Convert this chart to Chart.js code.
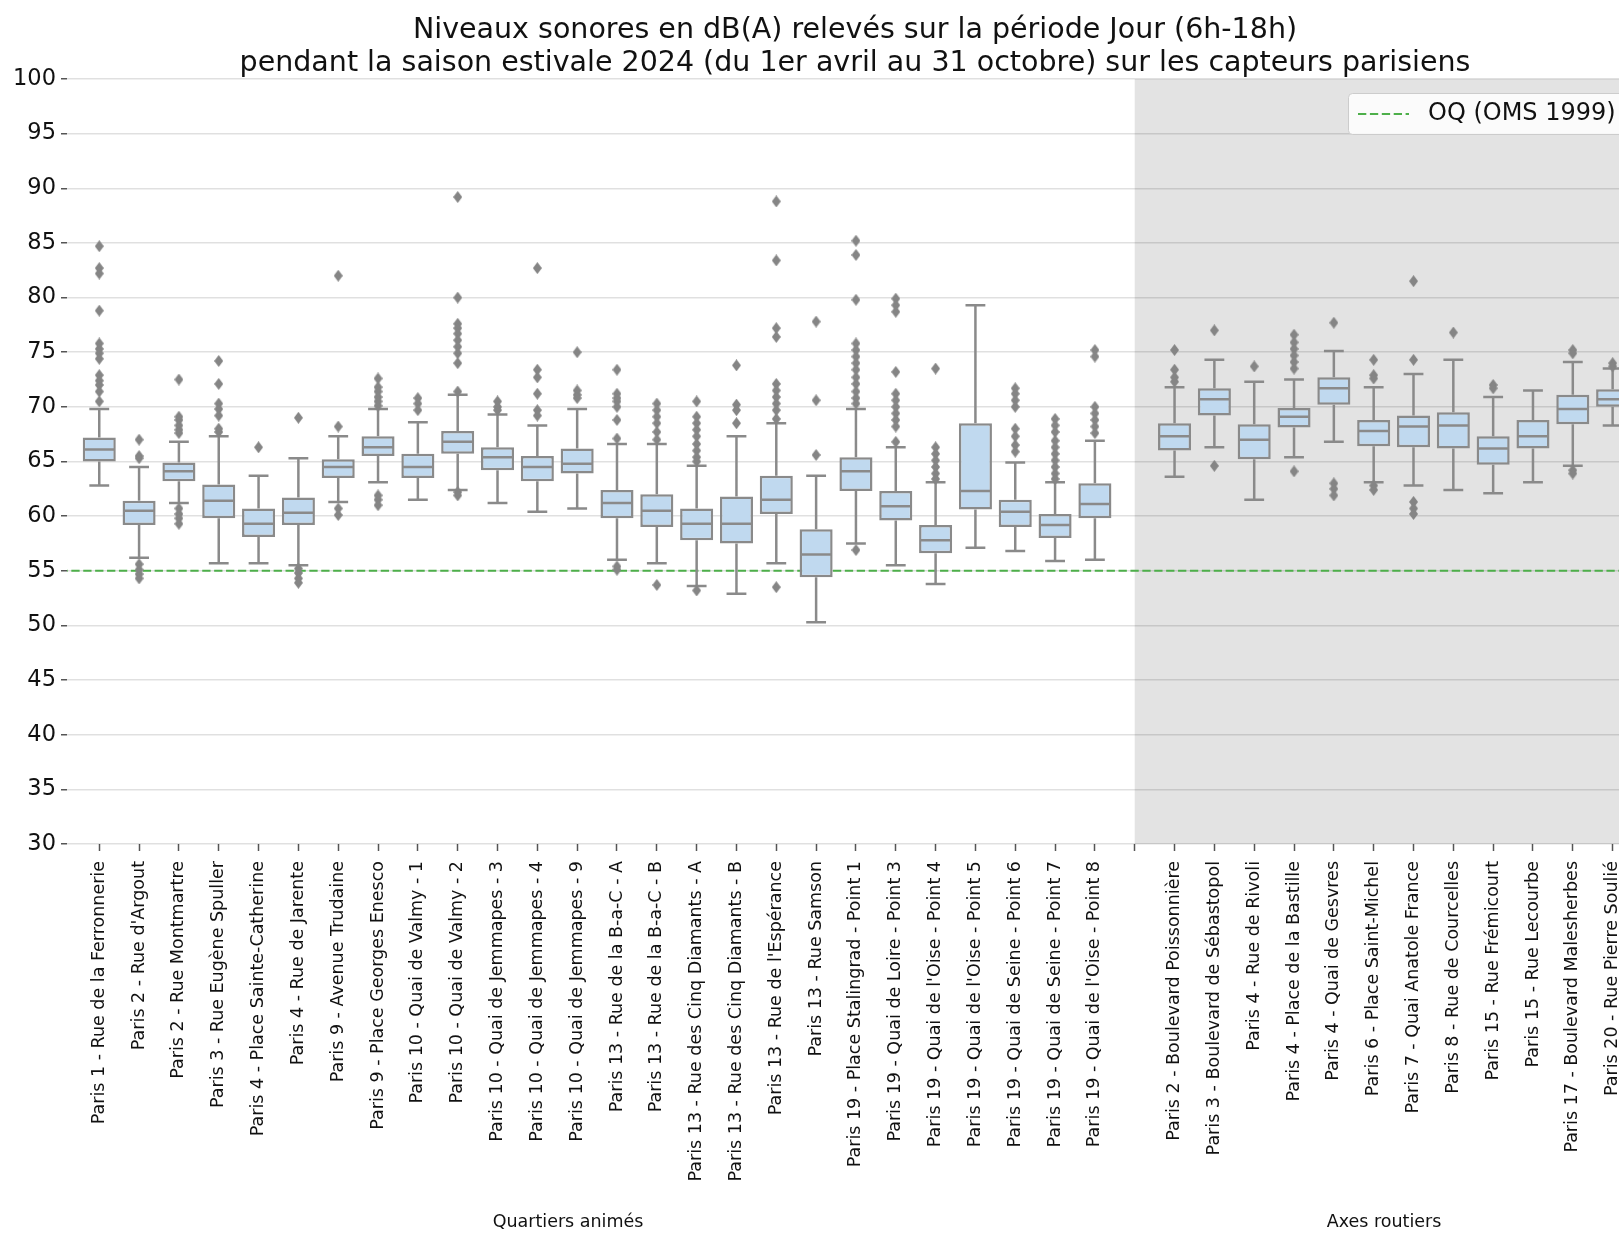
<!DOCTYPE html>
<html>
<head>
<meta charset="utf-8">
<script src="https://cdn.jsdelivr.net/npm/chart.js@4.4.1/dist/chart.umd.min.js"></script>
<style>
  html, body { margin: 0; padding: 0; background: #fff; }
  #wrap { width: 1619px; height: 1233px; }
</style>
</head>
<body>
<div id="wrap"><canvas id="graphique" width="1619" height="1233"></canvas></div>
<script>
// capteurs : 26 "quartiers animés", une case vide, puis 12 "axes routiers"
var capteurs = [
  'Paris 1 - Rue de la Ferronnerie', "Paris 2 - Rue d'Argout", 'Paris 2 - Rue Montmartre',
  'Paris 3 - Rue Eugène Spuller', 'Paris 4 - Place Sainte-Catherine', 'Paris 4 - Rue de Jarente',
  'Paris 9 - Avenue Trudaine', 'Paris 9 - Place Georges Enesco', 'Paris 10 - Quai de Valmy - 1',
  'Paris 10 - Quai de Valmy - 2', 'Paris 10 - Quai de Jemmapes - 3', 'Paris 10 - Quai de Jemmapes - 4',
  'Paris 10 - Quai de Jemmapes - 9', 'Paris 13 - Rue de la B-a-C - A', 'Paris 13 - Rue de la B-a-C - B',
  'Paris 13 - Rue des Cinq Diamants - A', 'Paris 13 - Rue des Cinq Diamants - B', "Paris 13 - Rue de l'Espérance",
  'Paris 13 - Rue Samson', 'Paris 19 - Place Stalingrad - Point 1', 'Paris 19 - Quai de Loire - Point 3',
  "Paris 19 - Quai de l'Oise - Point 4", "Paris 19 - Quai de l'Oise - Point 5", 'Paris 19 - Quai de Seine - Point 6',
  'Paris 19 - Quai de Seine - Point 7', "Paris 19 - Quai de l'Oise - Point 8",
  '',
  'Paris 2 - Boulevard Poissonnière', 'Paris 3 - Boulevard de Sébastopol', 'Paris 4 - Rue de Rivoli',
  'Paris 4 - Place de la Bastille', 'Paris 4 - Quai de Gesvres', 'Paris 6 - Place Saint-Michel',
  'Paris 7 - Quai Anatole France', 'Paris 8 - Rue de Courcelles', 'Paris 15 - Rue Frémicourt',
  'Paris 15 - Rue Lecourbe', 'Paris 17 - Boulevard Malesherbes', 'Paris 20 - Rue Pierre Soulié'
];

var moustacheBasse = [62.8, 56.2, 61.2, 55.7, 55.7, 55.5, 61.3, 63.1, 61.5, 62.4, 61.2, 60.4, 60.7, 56.0, 55.7, 53.6, 52.9, 55.7, 50.3, 57.5, 55.5, 53.8, 57.1, 56.8, 55.9, 56.0, null, 63.6, 66.3, 61.5, 65.4, 66.8, 63.1, 62.8, 62.4, 62.1, 63.1, 64.6, 68.3];
var q1 = [65.0, 59.2, 63.2, 59.8, 58.1, 59.2, 63.5, 65.5, 63.5, 65.7, 64.2, 63.2, 63.9, 59.8, 59.0, 57.8, 57.5, 60.2, 54.4, 62.3, 59.6, 56.6, 60.6, 59.0, 58.0, 59.8, null, 66.0, 69.2, 65.2, 68.1, 70.2, 66.4, 66.3, 66.2, 64.7, 66.2, 68.4, 70.0];
var mediane = [66.1, 60.5, 64.1, 61.4, 59.3, 60.3, 64.5, 66.3, 64.5, 66.8, 65.4, 64.5, 64.8, 61.2, 60.5, 59.3, 59.3, 61.5, 56.5, 64.1, 60.9, 57.8, 62.3, 60.4, 59.2, 61.1, null, 67.3, 70.7, 67.0, 69.1, 71.7, 67.8, 68.2, 68.3, 66.2, 67.3, 69.8, 70.7];
var q3 = [67.2, 61.4, 64.9, 62.9, 60.7, 61.7, 65.2, 67.3, 65.7, 67.8, 66.3, 65.5, 66.2, 62.4, 62.0, 60.7, 61.8, 63.7, 58.8, 65.4, 62.3, 59.2, 68.5, 61.5, 60.2, 63.0, null, 68.5, 71.7, 68.4, 69.9, 72.7, 68.8, 69.2, 69.5, 67.3, 68.8, 71.1, 71.6];
var moustacheHaute = [69.8, 64.5, 66.8, 67.3, 63.7, 65.3, 67.3, 69.8, 68.6, 71.1, 69.3, 68.3, 69.8, 66.6, 66.6, 64.6, 67.3, 68.5, 63.7, 69.8, 66.3, 63.1, 79.3, 64.9, 63.1, 66.9, null, 71.8, 74.3, 72.3, 72.5, 75.1, 71.8, 73.0, 74.3, 70.9, 71.5, 74.1, 73.5];

var valeursAberrantes = [
  [84.7, 82.7, 82.2, 78.8, 75.8, 75.3, 74.9, 74.4, 72.9, 72.4, 72.0, 71.4, 70.5],
  [67.0, 65.5, 65.3, 55.6, 55.1, 54.7, 54.3],
  [72.5, 69.1, 68.8, 68.3, 67.9, 67.6, 60.7, 60.2, 59.8, 59.3],
  [74.2, 72.1, 70.3, 69.8, 69.2, 68.0, 67.7],
  [66.3],
  [69.0, 55.2, 54.8, 54.3, 53.9],
  [82.0, 68.2, 60.7, 60.1],
  [72.6, 71.8, 71.4, 70.9, 70.5, 70.1, 61.9, 61.5, 61.0],
  [70.8, 70.3, 69.7],
  [89.2, 80.0, 77.6, 77.2, 76.7, 76.1, 75.5, 74.9, 74.0, 71.4, 62.2, 61.9],
  [70.5, 70.0, 69.7],
  [82.7, 73.4, 72.7, 71.2, 69.7, 69.2],
  [75.0, 71.5, 71.1, 70.8],
  [73.4, 71.2, 70.8, 70.5, 70.0, 68.8, 67.1, 55.4, 55.1],
  [70.3, 69.7, 69.1, 68.5, 67.7, 67.0, 53.7],
  [70.5, 69.1, 68.5, 67.9, 67.3, 66.6, 66.0, 65.4, 65.0, 53.2],
  [73.8, 70.2, 69.7, 68.5],
  [88.8, 83.4, 77.2, 76.4, 72.1, 71.5, 70.9, 70.3, 69.7, 68.9, 53.5],
  [77.8, 70.6, 65.6],
  [85.2, 83.9, 79.8, 75.8, 75.2, 74.6, 74.0, 73.4, 72.7, 72.1, 71.4, 70.8, 70.3, 56.9],
  [79.9, 79.3, 78.7, 73.2, 71.2, 70.6, 70.0, 69.4, 68.8, 68.2, 66.8],
  [73.5, 66.3, 65.7, 65.1, 64.5, 63.9, 63.4],
  [],
  [71.7, 71.2, 70.6, 70.0, 68.0, 67.3, 66.5, 65.9],
  [68.9, 68.3, 67.7, 66.9, 66.3, 65.7, 65.1, 64.5, 63.9, 63.4],
  [75.2, 74.6, 70.0, 69.4, 68.8, 68.2, 67.6],
  [],
  [75.2, 73.4, 72.7, 72.3],
  [77.0, 64.6],
  [73.7],
  [76.6, 75.9, 75.3, 74.7, 74.1, 73.5, 64.1],
  [77.7, 63.0, 62.5, 61.9],
  [74.3, 72.9, 72.6, 62.8, 62.4],
  [81.5, 74.3, 61.3, 60.7, 60.2],
  [76.8],
  [72.0, 71.7],
  [],
  [75.2, 74.9, 64.2, 63.9],
  [74.0, 73.7]
];

var seuilOMS = 55;
var ticksY = [30, 35, 40, 45, 50, 55, 60, 65, 70, 75, 80, 85, 90, 95, 100];

var grisTrait = '#8a8a8a';
var police = 'DejaVu Sans';
Chart.defaults.font.family = police;

// boites (q1 -> q3) en barres flottantes
var boites = [];
var points = [];
capteurs.forEach(function (nom, i) {
  if (q1[i] != null) boites.push({ x: i, y: [q1[i], q3[i]] });
  valeursAberrantes[i].forEach(function (v) { points.push({ x: i, y: v }); });
});

// marqueur losange fin, comme le 'd' de matplotlib
var losange = document.createElement('canvas');
losange.width = 9; losange.height = 12;
var lc = losange.getContext('2d');
lc.fillStyle = '#858585';
lc.beginPath();
lc.moveTo(4.5, 0); lc.lineTo(9, 6); lc.lineTo(4.5, 12); lc.lineTo(0, 6);
lc.closePath(); lc.fill();

var boxPlugin = {
  id: 'boxplot',
  beforeDraw: function (chart) {
    var ctx = chart.ctx, a = chart.chartArea, x = chart.scales.x;
    ctx.save();
    ctx.fillStyle = '#ffffff';
    ctx.fillRect(0, 0, chart.width, chart.height);
    // zone grisée des axes routiers
    var x0 = x.getPixelForValue(26);
    ctx.fillStyle = '#e3e3e3';
    ctx.fillRect(x0, a.top, a.right - x0, a.bottom - a.top);
    ctx.restore();
  },
  afterDatasetDraw: function (chart, args) {
    if (args.index !== 1) return;
    var ctx = chart.ctx, xs = chart.scales.x, ys = chart.scales.y, a = chart.chartArea;
    var pas = xs.getPixelForValue(1) - xs.getPixelForValue(0);
    var demi = pas * 0.83 / 2;
    ctx.save();
    ctx.beginPath(); ctx.rect(a.left, a.top, a.right - a.left, a.bottom - a.top); ctx.clip();
    ctx.strokeStyle = grisTrait;
    ctx.lineWidth = 2.5;
    ctx.beginPath();
    capteurs.forEach(function (nom, i) {
      if (mediane[i] == null) return;
      var px = xs.getPixelForValue(i);
      var yH = ys.getPixelForValue(moustacheHaute[i]);
      var yB = ys.getPixelForValue(moustacheBasse[i]);
      var y3 = ys.getPixelForValue(q3[i]);
      var y1 = ys.getPixelForValue(q1[i]);
      var yM = ys.getPixelForValue(mediane[i]);
      ctx.moveTo(px, y3); ctx.lineTo(px, yH);
      ctx.moveTo(px, y1); ctx.lineTo(px, yB);
      ctx.moveTo(px - demi * 0.6, yH); ctx.lineTo(px + demi * 0.6, yH);
      ctx.moveTo(px - demi * 0.6, yB); ctx.lineTo(px + demi * 0.6, yB);
      ctx.moveTo(px - demi + 1, yM); ctx.lineTo(px + demi - 1, yM);
    });
    ctx.stroke();
    ctx.restore();
  },
  afterDraw: function (chart) {
    var ctx = chart.ctx, xs = chart.scales.x;
    ctx.save();
    // titre
    ctx.fillStyle = '#111';
    ctx.textAlign = 'center';
    ctx.textBaseline = 'middle';
    ctx.font = '28.5px "' + police + '"';
    ctx.fillText('Niveaux sonores en dB(A) relevés sur la période Jour (6h-18h)', 855, 31);
    ctx.fillText('pendant la saison estivale 2024 (du 1er avril au 31 octobre) sur les capteurs parisiens', 855, 64);
    // libellés des groupes
    ctx.font = '17.5px "' + police + '"';
    ctx.fillText('Quartiers animés', xs.getPixelForValue(11.77), 1222);
    ctx.fillText('Axes routiers', xs.getPixelForValue(32.26), 1222);
    // légende
    ctx.fillStyle = 'rgba(255,255,255,0.85)';
    ctx.strokeStyle = '#cccccc';
    ctx.lineWidth = 1;
    ctx.beginPath();
    ctx.roundRect(1348.5, 93.5, 300, 41, 4);
    ctx.fill(); ctx.stroke();
    ctx.strokeStyle = '#4daf4a';
    ctx.lineWidth = 2;
    ctx.setLineDash([8.3, 3.6]);
    ctx.beginPath();
    ctx.moveTo(1358, 114); ctx.lineTo(1409, 114);
    ctx.stroke();
    ctx.setLineDash([]);
    ctx.fillStyle = '#111';
    ctx.textAlign = 'left';
    ctx.font = '24px "' + police + '"';
    ctx.fillText('OQ (OMS 1999)', 1428, 114);
    ctx.restore();
  }
};

new Chart(document.getElementById('graphique'), {
  type: 'bar',
  data: {
    datasets: [
      {
        type: 'line',
        label: 'OQ (OMS 1999)',
        data: [{ x: -1, y: seuilOMS }, { x: 40, y: seuilOMS }],
        borderColor: '#4daf4a',
        borderWidth: 2,
        borderDash: [8.3, 3.6],
        pointRadius: 0,
        order: 3
      },
      {
        type: 'bar',
        label: 'boites',
        data: boites,
        backgroundColor: '#c0d9ef',
        borderColor: grisTrait,
        borderWidth: 2.5,
        borderSkipped: false,
        barPercentage: 0.83,
        categoryPercentage: 1,
        order: 2
      },
      {
        type: 'scatter',
        label: 'aberrantes',
        data: points,
        pointStyle: losange,
        pointRadius: 5,
        order: 1
      }
    ]
  },
  options: {
    responsive: false,
    animation: false,
    events: [],
    devicePixelRatio: 1,
    layout: { autoPadding: false, padding: { top: 79, left: 0, right: 0, bottom: 0 } },
    plugins: { legend: { display: false }, tooltip: { enabled: false }, title: { display: false } },
    scales: {
      x: {
        type: 'linear',
        min: -0.81,
        max: 38.16,
        offset: false,
        border: { display: false },
        grid: { drawOnChartArea: false, offset: false, tickLength: 7, tickColor: '#555', tickWidth: 1.5 },
        ticks: {
          autoSkip: false,
          minRotation: 90,
          maxRotation: 90,
          padding: 10,
          color: '#111',
          font: { size: 17.5 },
          callback: function (v) { return capteurs[v] || ''; }
        },
        afterBuildTicks: function (scale) {
          scale.ticks = capteurs.map(function (c, i) { return { value: i }; });
        },
        afterFit: function (scale) {
          scale.height = 389;
          scale.paddingLeft = 0;
          scale.paddingRight = 0;
        }
      },
      y: {
        type: 'linear',
        min: 30,
        max: 100,
        border: { display: false },
        grid: { color: 'rgba(0,0,0,0.12)', lineWidth: 1.5, tickLength: 6, tickColor: '#555', tickWidth: 1.5 },
        ticks: { stepSize: 5, padding: 5, color: '#111', font: { size: 22.5 } },
        afterBuildTicks: function (scale) {
          scale.ticks = ticksY.map(function (v) { return { value: v }; });
        },
        afterFit: function (scale) { scale.width = 67; }
      }
    }
  },
  plugins: [boxPlugin]
});
</script>
</body>
</html>
